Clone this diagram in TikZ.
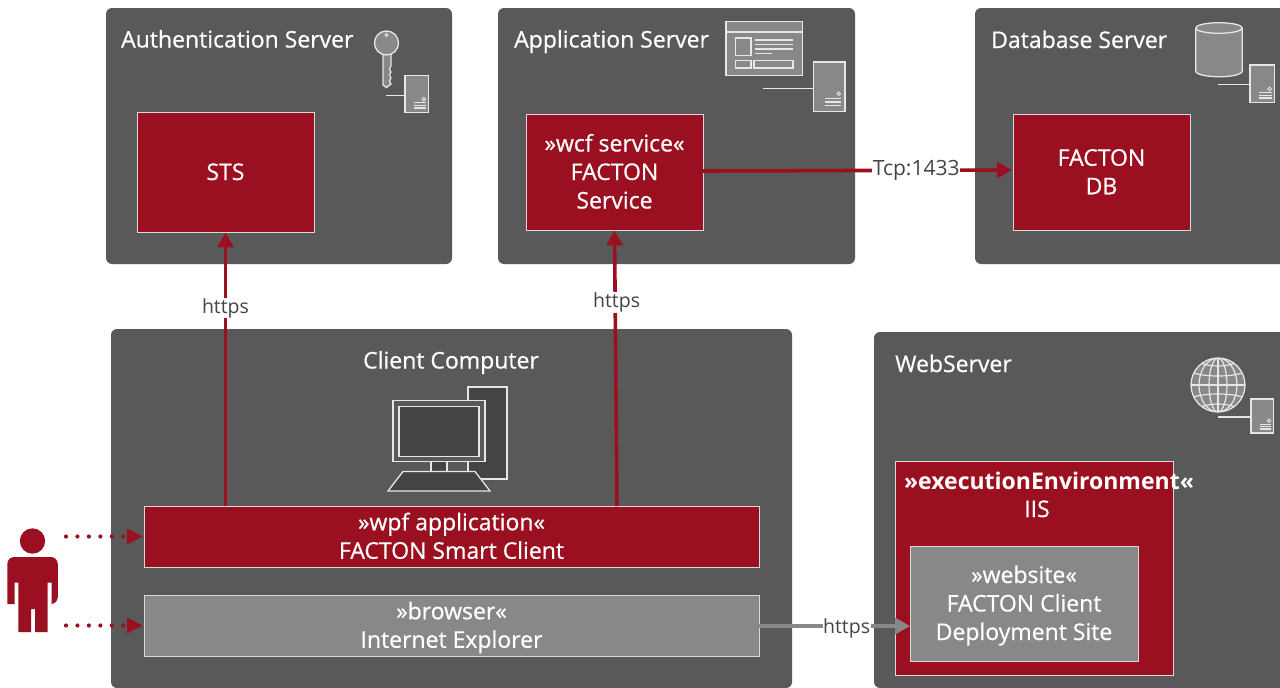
\documentclass[tikz,border=0pt]{standalone}
\usepackage{fontspec}
\setmainfont[BoldFont={Open Sans},BoldFeatures={FakeBold=0.6}]{Open Sans}
\newfontfamily\realbold[UprightFont={* Bold}]{Open Sans}
\usetikzlibrary{arrows.meta,calc}
\definecolor{panelgrey}{HTML}{595959}
\definecolor{factred}{HTML}{9B1020}
\definecolor{midgrey}{HTML}{888888}
\definecolor{darkscreen}{HTML}{444444}
\definecolor{iconline}{HTML}{E6E6E6}
\newcommand{\st}{\rule[-6pt]{0pt}{28pt}}
\tikzset{
  panel/.style={fill=panelgrey,draw=none,rounded corners=6pt},
  paneltitle/.style={text=white,anchor=base west,inner sep=0pt,font=\fontsize{23}{26}\selectfont\bfseries},
  box/.style={draw=white!85!black,line width=0.8pt,text=white,align=center,inner sep=0pt,font=\fontsize{23}{28.5}\selectfont\bfseries},
  redbox/.style={box,fill=factred},
  greybox/.style={box,fill=midgrey},
  icon/.style={draw=iconline,line width=1.3pt,fill=midgrey},
  iconthin/.style={draw=iconline,line width=1.2pt},
  darkicon/.style={draw=iconline,line width=1.3pt,fill=darkscreen},
  redline/.style={draw=factred,line width=3.6pt},
  greyline/.style={draw=midgrey,line width=3.6pt},
  tipred/.style={-{Triangle[length=15pt,width=16pt]}},
  dotline/.style={draw=factred,line width=4.2pt,line cap=round,dash pattern=on 0pt off 11.45pt},
  linklabel/.style={fill=white,text=darkscreen,inner sep=0.5pt,font=\fontsize{19.5}{22}\selectfont},
}
\newcommand{\servericon}[5]{% left, top, right, bottom, line start x
  \pgfmathsetmacro{\midy}{#2+(#4-#2)*0.53}
  \draw[iconthin] (#5,\midy) -- (#1,\midy);
  \draw[icon] (#1,#2) rectangle (#3,#4);
  \pgfmathsetmacro{\ledx}{#3-(#3-#1)*0.2}
  \pgfmathsetmacro{\ledy}{#2+(#4-#2)*0.64}
  \draw[iconthin,line width=0.9pt] (\ledx,\ledy) circle (1.8pt);
  \pgfmathsetmacro{\bl}{#1+(#3-#1)*0.38}
  \pgfmathsetmacro{\br}{#3-(#3-#1)*0.12}
  \foreach \f in {0.74,0.81,0.88}{
    \pgfmathsetmacro{\by}{#2+(#4-#2)*\f}
    \draw[iconthin] (\bl,\by) -- (\br,\by);
  }
}
\begin{document}
\begin{tikzpicture}[x=1pt,y=-1pt]
\useasboundingbox (0,0) rectangle (1280,688);
% panels
\fill[panel] (106,8) rectangle (452,264);
\fill[panel] (498,8) rectangle (855,264);
\fill[panel] (975,8) rectangle (1295,264);
\fill[panel] (111,329) rectangle (792,688);
\fill[panel] (874,332) rectangle (1295,688);
% titles
\node[paneltitle] (t1) at (121,47.5) {Authentication Server};
\node[paneltitle] (t2) at (514,47.5) {Application Server};
\node[paneltitle] (t3) at (991,48) {Database Server};
\node[paneltitle,anchor=base] (t4) at (451,368.5) {Client Computer};
\node[paneltitle] (t5) at (895,372) {WebServer};
% boxes
\node[redbox,minimum width=177pt,minimum height=120pt] (sts) at (225.5,172) {\st STS};
\node[redbox,minimum width=177pt,minimum height=116pt] (svc) at (614.5,172) {\st »wcf service«\\\st FACTON\\\st Service};
\node[redbox,minimum width=177pt,minimum height=116pt] (db) at (1101.5,172) {\st FACTON\\\st DB};
\node[redbox,minimum width=615pt,minimum height=61pt] (wpf) at (451.5,536.5) {\st »wpf application«\\\st FACTON Smart Client};
\node[greybox,minimum width=615pt,minimum height=61pt] (ie) at (451.5,625.5) {\st »browser«\\\st Internet Explorer};
\node[redbox,minimum width=278pt,minimum height=214pt] (iis) at (1034,568) {};
\node[text=white,inner sep=0pt,font=\fontsize{23}{28.5}\selectfont\realbold] (iist) at (1049,481) {\st »executionEnvironment«};
\node[text=white,inner sep=0pt,font=\fontsize{23}{28.5}\selectfont\bfseries] (iist2) at (1037,509) {\st IIS};
\node[greybox,minimum width=228pt,minimum height=115pt] (site) at (1024,603.5) {\st »website«\\\st FACTON Client\\\st Deployment Site};
% connectors
\coordinate (wpfa) at (617,506);
\draw[redline,tipred] (wpf.north -| sts.south) -- (sts.south) node[linklabel,pos=0.73,yshift=-2pt] (l1) {https};
\draw[redline,tipred] (wpfa) -- (svc.south) node[linklabel,pos=0.75,yshift=-3pt,xshift=1.5pt] (l2) {https};
\coordinate (svcr) at (703,171);
\coordinate (dbl) at (1012,170);
\draw[redline,tipred] (svcr) -- (dbl) node[linklabel,pos=0.69,font=\fontsize{21}{22}\selectfont] (l3) {Tcp:1433};
\coordinate (ier) at (759,626);
\coordinate (sitel) at (910,626);
\draw[greyline,-{Triangle[length=15pt,width=16pt]}] (ier) -- (sitel) node[linklabel,pos=0.58,yshift=-2pt] (l4) {https};
% person
\fill[factred] (32.5,541) circle (12.7pt);
\fill[factred,rounded corners=7pt] (7.3,604) -- (7.3,557) -- (57.8,557) -- (57.8,604) [sharp corners] -- (51.7,604) -- (51.7,582.7) -- (47.7,582.7) -- (47.7,632) -- (35,632) -- (35,609) -- (31,609) -- (31,632) -- (18.3,632) -- (18.3,582.7) -- (14.7,582.7) -- (14.7,604) -- cycle;
\coordinate (pa) at (66,536.5);
\coordinate (pb) at (66,625.5);
\draw[dotline] (pa) -- ++(60,0);
\draw[dotline] (pb) -- ++(60,0);
\fill[factred] (127,528.5) -- (142.5,536.5) -- (127,544.5) -- cycle;
\fill[factred] (127,617.5) -- (142.5,625.5) -- (127,633.5) -- cycle;
% key + server
\fill[icon] (383,54) -- (383,85) -- (386.5,87.5) -- (391,84) -- (389.5,81) -- (391,78) -- (389.5,75) -- (391,72) -- (389.5,69) -- (391,66) -- (391,54) -- cycle;
\draw[icon] (386.5,43) circle (12pt);
\draw[iconthin,line width=0.9pt] (386.5,35) circle (1.5pt);
\servericon{405}{75.5}{428.5}{112.5}{386}
% window + server
\draw[icon] (726,21.7) rectangle (802.7,75.7);
\draw[iconthin] (726,32) -- (802.7,32);
\draw[iconthin] (735.3,38) rectangle (751,55.5);
\foreach \ly in {40,44.7,49}{\draw[iconthin] (755,\ly) -- (793,\ly);}
\draw[iconthin] (755,53.7) -- (772,53.7);
\draw[iconthin] (735.3,60.5) rectangle (751,68);
\draw[iconthin] (754,60.5) rectangle (793,68);
\servericon{813.5}{62}{845}{111.5}{763}
% cylinder + server
\draw[icon] (1195.7,28) -- (1195.7,71.5) .. controls (1199,78.5) and (1239,78.5) .. (1242.3,71.5) -- (1242.3,28);
\draw[icon] (1219,28) ellipse (23.3pt and 5.3pt);
\servericon{1250}{65}{1274.5}{102.5}{1218}
% computer
\draw[darkicon] (468,387) rectangle (507,479);
\draw[darkicon,fill=panelgrey] (393,400.5) rectangle (485,461.5);
\draw[darkicon] (399,406.5) rectangle (479,456.5);
\draw[darkicon] (431,461.5) rectangle (447,471.5);
\draw[iconthin,fill=panelgrey] (447,461.5) rectangle (468,471.5);
\draw[darkicon] (403,471.5) -- (475,471.5) -- (490,491) -- (388,491) -- cycle;
% globe + server
\begin{scope}
\draw[icon] (1218,385) circle (27pt);
\clip (1218,385) circle (27pt);
\foreach \rx in {9,19}{\draw[iconthin] (1218,385) ellipse (\rx pt and 27pt);}
\draw[iconthin] (1218,358) -- (1218,412);
\draw[iconthin] (1191,385) -- (1245,385);
\draw[iconthin] (1194,373) .. controls (1205,377) and (1231,377) .. (1242,373);
\draw[iconthin] (1194,397) .. controls (1205,393) and (1231,393) .. (1242,397);
\draw[iconthin] (1201,363) .. controls (1210,367) and (1226,367) .. (1235,363);
\draw[iconthin] (1201,407) .. controls (1210,403) and (1226,403) .. (1235,407);
\end{scope}
\servericon{1251}{399}{1273.5}{433}{1218}
\end{tikzpicture}
\end{document}
